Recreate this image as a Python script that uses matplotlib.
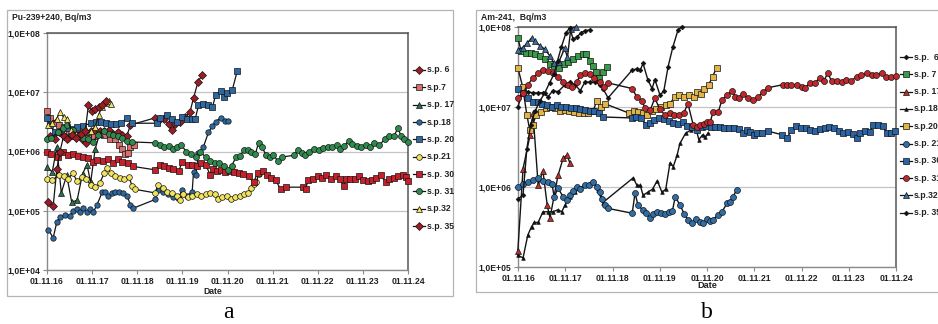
import math
import matplotlib
matplotlib.use("Agg")
import matplotlib.pyplot as plt
from matplotlib.lines import Line2D
from matplotlib.patches import Rectangle

# ---------------- panel a : Pu-239+240, Bq/m3 ----------------
a6_t = [2016.90, 2017.00, 2017.10, 2017.20, 2017.30, 2017.40, 2017.50, 2017.60, 2017.70, 2017.80,
        2017.90, 2018.00, 2018.10, 2018.20, 2018.30, 2018.40, 2018.50, 2018.60, 2018.68, 2019.23,
        2019.33, 2019.43, 2019.53, 2019.60, 2019.68, 2019.78, 2019.90, 2020.00, 2020.08, 2020.18, 2020.27]
a6_v = [1.8e6, 1.6e6, 2.1e6, 1.8e6, 1.7e6, 1.9e6, 1.8e6, 1.6e6, 1.4e6, 2.2e6,
        2.3e6, 2.2e6, 2.2e6, 2.3e6, 2.0e6, 2.1e6, 1.9e6, 1.8e6, 2.8e6, 3.7e6,
        3.6e6, 3.5e6, 2.9e6, 2.3e6, 2.9e6, 3.1e6, 3.8e6, 4.6e6, 8.0e6, 1.5e7, 1.95e7]

a7_t = [2016.83, 2016.90, 2017.00, 2017.10, 2017.20, 2017.32, 2017.45, 2017.55, 2017.65, 2017.75,
        2017.88, 2018.00, 2018.10, 2018.22, 2018.33, 2018.43, 2018.50, 2018.56, 2018.62, 2018.68, 2018.75]
a7_v = [4.8e6, 3.7e6, 3.0e6, 2.8e6, 2.6e6, 2.2e6, 2.0e6, 1.8e6, 1.9e6, 1.7e6,
        1.8e6, 2.0e6, 1.9e6, 1.6e6, 1.6e6, 1.3e6, 1.1e6, 9.0e5, 9.5e5, 1.2e6, 1.3e6]

a17_t = [2016.83, 2016.95, 2017.05, 2017.15, 2017.27, 2017.38, 2017.50, 2017.62, 2017.72, 2017.80,
         2017.90, 2018.00]
a17_v = [5.5e5, 4.5e5, 1.2e6, 2.0e5, 4.0e5, 1.4e5, 1.5e5, 4.2e5, 6.0e5, 3.0e5, 1.1e6, 2.0e6]

a18_t = [2016.86, 2016.97, 2017.05, 2017.12, 2017.23, 2017.34, 2017.41, 2017.50, 2017.57, 2017.63,
         2017.72, 2017.79, 2017.86, 2017.94, 2018.06, 2018.12, 2018.19, 2018.28, 2018.34, 2018.43,
         2018.52, 2018.61, 2018.68, 2018.74, 2019.23, 2019.30, 2019.41, 2019.52, 2019.63, 2019.74,
         2019.83, 2019.94, 2020.05, 2020.08, 2020.13, 2020.19, 2020.30, 2020.41, 2020.50, 2020.57,
         2020.68, 2020.77, 2020.85]
a18_v = [4.8e4, 3.5e4, 6.4e4, 7.8e4, 8.5e4, 8.2e4, 1.0e5, 1.05e5, 9.5e4, 1.1e5,
         9.5e4, 1.05e5, 9.5e4, 1.25e5, 2.1e5, 2.1e5, 1.8e5, 2.0e5, 2.1e5, 2.1e5,
         2.0e5, 1.8e5, 1.25e5, 1.1e5, 1.55e5, 2.2e5, 2.1e5, 1.9e5, 1.7e5, 1.65e5,
         2.2e5, 1.8e5, 2.1e5, 4.5e5, 4.0e5, 9.5e5, 1.2e6, 2.1e6, 2.7e6, 3.2e6,
         3.7e6, 3.3e6, 3.3e6]

a20_t = [2016.83, 2016.90, 2017.00, 2017.28, 2017.40, 2017.50, 2017.63, 2017.80, 2017.92, 2018.03,
         2018.15, 2018.26, 2018.37, 2018.48, 2018.60, 2018.72, 2019.28, 2019.34, 2019.50, 2019.61,
         2019.72, 2019.83, 2019.94, 2020.05, 2020.12, 2020.19, 2020.28, 2020.39, 2020.50, 2020.57,
         2020.68, 2020.75, 2020.83, 2020.94, 2021.05]
a20_v = [3.7e6, 2.8e6, 2.1e6, 2.5e6, 2.4e6, 2.6e6, 2.7e6, 3.0e6, 3.1e6, 3.1e6,
         3.0e6, 2.9e6, 2.9e6, 3.0e6, 3.7e6, 3.0e6, 3.0e6, 3.7e6, 4.2e6, 3.5e6,
         3.2e6, 3.8e6, 3.6e6, 3.6e6, 3.6e6, 6.0e6, 6.3e6, 6.2e6, 5.6e6, 9.0e6,
         1.05e7, 8.3e6, 9.6e6, 1.1e7, 2.3e7]

a21_t = [2016.83, 2016.95, 2017.10, 2017.20, 2017.30, 2017.40, 2017.50, 2017.60, 2017.70, 2017.80,
         2017.90, 2018.00, 2018.10, 2018.17, 2018.25, 2018.35, 2018.45, 2018.55, 2018.65, 2018.72,
         2018.78, 2019.23, 2019.30, 2019.40, 2019.50, 2019.60, 2019.72, 2019.78, 2019.85, 2019.95,
         2020.05, 2020.15, 2020.25, 2020.35, 2020.45, 2020.55, 2020.62, 2020.72, 2020.82, 2020.92,
         2021.00, 2021.10, 2021.20, 2021.28, 2021.35, 2021.42, 2021.47, 2021.52]
a21_v = [3.5e5, 3.3e5, 4.0e5, 3.8e5, 3.4e5, 4.3e5, 3.2e5, 3.7e5, 3.5e5, 2.7e5,
         2.5e5, 2.9e5, 4.3e5, 5.3e5, 4.3e5, 3.9e5, 3.6e5, 3.4e5, 3.7e5, 2.6e5,
         2.3e5, 2.0e5, 2.7e5, 2.4e5, 2.1e5, 2.0e5, 1.8e5, 1.5e5, 1.9e5, 1.7e5,
         1.8e5, 1.9e5, 1.8e5, 1.9e5, 2.0e5, 1.9e5, 1.6e5, 1.7e5, 1.8e5, 1.6e5,
         1.7e5, 1.8e5, 1.9e5, 2.0e5, 2.4e5, 2.8e5, 3.0e5, 4.1e5]

a30_t = [2016.83, 2016.92, 2017.07, 2017.18, 2017.30, 2017.40, 2017.52, 2017.62, 2017.74, 2017.85,
         2017.95, 2018.07, 2018.18, 2018.30, 2018.40, 2018.50, 2018.62, 2018.74, 2019.23, 2019.33,
         2019.43, 2019.53, 2019.63, 2019.75, 2019.83, 2019.95, 2020.05, 2020.15, 2020.25, 2020.35,
         2020.45, 2020.52, 2020.60, 2020.68, 2020.78, 2020.88, 2020.98, 2021.08, 2021.18, 2021.30,
         2021.41, 2021.50, 2021.61, 2021.70, 2021.80, 2021.90, 2022.01, 2022.12, 2022.50, 2022.57,
         2022.61, 2022.72, 2022.83, 2022.93, 2023.01, 2023.12, 2023.23, 2023.32, 2023.41, 2023.45,
         2023.55, 2023.65, 2023.74, 2023.84, 2023.94, 2024.04, 2024.12, 2024.23, 2024.34, 2024.42,
         2024.52, 2024.62, 2024.72, 2024.78, 2024.83]
a30_v = [1.0e6, 9.0e5, 8.2e5, 1.0e6, 8.8e5, 9.2e5, 8.5e5, 8.0e5, 7.8e5, 6.7e5,
         7.2e5, 6.8e5, 7.4e5, 6.5e5, 7.5e5, 6.6e5, 6.3e5, 5.6e5, 4.9e5, 6.0e5,
         5.6e5, 5.3e5, 5.0e5, 4.6e5, 6.7e5, 6.0e5, 6.0e5, 5.6e5, 6.4e5, 6.0e5,
         4.0e5, 5.0e5, 4.7e5, 4.9e5, 4.5e5, 4.6e5, 4.5e5, 4.3e5, 4.2e5, 3.8e5,
         3.0e5, 4.4e5, 4.6e5, 4.0e5, 3.6e5, 3.3e5, 2.3e5, 2.5e5, 2.5e5, 2.3e5,
         3.3e5, 3.5e5, 3.8e5, 3.6e5, 4.0e5, 3.5e5, 3.8e5, 3.4e5, 2.6e5, 3.4e5,
         3.4e5, 3.5e5, 3.8e5, 3.3e5, 3.2e5, 3.3e5, 3.6e5, 4.0e5, 3.0e5, 3.4e5,
         3.6e5, 3.8e5, 4.0e5, 3.7e5, 3.2e5]

a31_t = [2016.83, 2016.92, 2017.07, 2017.18, 2017.28, 2017.40, 2017.52, 2017.62, 2017.74, 2017.85,
         2017.96, 2018.10, 2018.20, 2018.30, 2018.40, 2018.50, 2018.60, 2018.72, 2019.23, 2019.33,
         2019.43, 2019.53, 2019.63, 2019.72, 2019.80, 2019.92, 2020.03, 2020.13, 2020.23, 2020.35,
         2020.45, 2020.55, 2020.65, 2020.75, 2020.85, 2020.93, 2021.02, 2021.10, 2021.20, 2021.28,
         2021.35, 2021.45, 2021.52, 2021.60, 2021.68, 2021.78, 2021.85, 2021.95, 2022.05, 2022.30,
         2022.40, 2022.48, 2022.55, 2022.65, 2022.75, 2022.85, 2022.95, 2023.05, 2023.15, 2023.25,
         2023.32, 2023.42, 2023.52, 2023.60, 2023.70, 2023.80, 2023.90, 2023.98, 2024.08, 2024.20,
         2024.32, 2024.41, 2024.52, 2024.61, 2024.68, 2024.75, 2024.83]
a31_v = [1.6e6, 1.7e6, 2.1e6, 2.5e6, 2.8e6, 2.3e6, 1.9e6, 1.7e6, 1.6e6, 1.45e6,
         1.9e6, 2.2e6, 2.0e6, 1.9e6, 1.8e6, 1.7e6, 1.5e6, 1.45e6, 1.4e6, 1.3e6,
         1.2e6, 1.25e6, 1.1e6, 1.2e6, 1.3e6, 1.0e6, 9.0e5, 8.2e5, 1.0e6, 8.0e5,
         7.0e5, 6.5e5, 6.3e5, 5.6e5, 4.9e5, 5.8e5, 8.0e5, 8.3e5, 1.05e6, 1.05e6,
         1.0e6, 9.0e5, 1.4e6, 1.2e6, 8.8e5, 8.0e5, 8.8e5, 6.8e5, 8.1e5, 8.6e5,
         1.05e6, 9.5e5, 8.8e5, 1.0e6, 1.1e6, 1.05e6, 1.15e6, 1.2e6, 1.2e6, 1.3e6,
         1.1e6, 1.25e6, 1.5e6, 1.35e6, 1.25e6, 1.2e6, 1.3e6, 1.2e6, 1.4e6, 1.3e6,
         1.6e6, 1.8e6, 1.8e6, 2.5e6, 1.8e6, 1.6e6, 1.45e6]

a32_t = [2016.85, 2016.95, 2017.05, 2017.12, 2017.20, 2017.28, 2017.37, 2017.48, 2017.58, 2017.70,
         2017.80, 2017.90, 2017.98, 2018.05, 2018.12, 2018.20, 2018.25]
a32_v = [2.8e6, 3.0e6, 3.6e6, 4.7e6, 3.8e6, 3.6e6, 2.3e6, 2.0e6, 2.2e6, 2.3e6,
         2.2e6, 2.6e6, 4.2e6, 5.7e6, 6.5e6, 7.2e6, 6.3e6]

a35_t = [2016.85, 2016.97, 2017.05, 2017.12, 2017.20, 2017.28, 2017.38, 2017.48, 2017.58, 2017.68,
         2017.75, 2017.82, 2017.90, 2017.98, 2018.06, 2018.15]
a35_v = [1.4e5, 1.2e5, 5.0e5, 1.0e6, 1.8e6, 1.6e6, 1.9e6, 1.7e6, 2.0e6, 2.2e6,
         6.0e6, 4.8e6, 5.2e6, 5.6e6, 6.2e6, 7.0e6]

# ---------------- panel b : Am-241, Bq/m3 ----------------
b6_t = [2016.83, 2016.94, 2017.04, 2017.15, 2017.26, 2017.36, 2017.47, 2017.57, 2017.68, 2017.83,
        2017.93, 2018.04, 2018.15, 2018.25, 2018.36, 2018.46, 2018.57, 2018.63, 2018.74, 2019.25,
        2019.35, 2019.42, 2019.48, 2019.58, 2019.67, 2019.73, 2019.84, 2019.92, 2020.01, 2020.11,
        2020.22, 2020.30]
b6_v = [1.0e7, 1.6e7, 1.55e7, 1.5e7, 1.5e7, 1.5e7, 1.35e7, 1.6e7, 1.55e7, 1.9e7,
        2.05e7, 1.9e7, 1.6e7, 2.05e7, 2.05e7, 2.05e7, 1.9e7, 1.7e7, 1.3e7, 2.9e7,
        3.0e7, 2.9e7, 3.5e7, 2.2e7, 1.7e7, 2.2e7, 1.4e7, 1.6e7, 3.2e7, 5.6e7,
        9.2e7, 1.0e8]

b7_t = [2016.83, 2016.90, 2017.00, 2017.10, 2017.20, 2017.30, 2017.40, 2017.50, 2017.60, 2017.70,
        2017.80, 2017.90, 2018.00, 2018.10, 2018.20, 2018.28, 2018.35, 2018.42, 2018.48, 2018.55,
        2018.63, 2018.72]
b7_v = [7.3e7, 5.0e7, 4.7e7, 4.8e7, 4.6e7, 4.4e7, 4.0e7, 3.4e7, 3.3e7, 3.1e7,
        3.4e7, 3.6e7, 4.0e7, 4.3e7, 4.6e7, 4.6e7, 3.8e7, 3.3e7, 2.7e7, 2.3e7,
        2.7e7, 3.2e7]

b17_t = [2016.83, 2016.94, 2017.09, 2017.15, 2017.26, 2017.36, 2017.45, 2017.51, 2017.68, 2017.79,
         2017.87, 2017.93]
b17_v = [1.6e5, 1.7e6, 4.5e6, 8.4e6, 1.05e6, 1.6e6, 6.0e5, 4.1e5, 1.4e6, 2.3e6, 2.5e6, 2.0e6]

b18_t = [2016.83, 2016.94, 2017.04, 2017.12, 2017.18, 2017.26, 2017.36, 2017.47, 2017.57, 2017.68,
         2017.76, 2017.83, 2017.93, 2018.04, 2018.15, 2018.25, 2018.33, 2018.42, 2018.52, 2018.63,
         2019.27, 2019.35, 2019.42, 2019.48, 2019.58, 2019.68, 2019.78, 2019.88, 2019.96, 2020.05,
         2020.12, 2020.20, 2020.26, 2020.38, 2020.50, 2020.60, 2020.66, 2020.74, 2020.80, 2020.85]
b18_v = [1.4e5, 1.3e5, 2.5e5, 3.2e5, 3.6e5, 3.6e5, 4.9e5, 4.9e5, 4.9e5, 5.2e5,
         4.9e5, 6.0e5, 7.5e5, 8.6e5, 9.8e5, 1.05e6, 1.1e6, 1.15e6, 9.2e5, 6.4e5,
         1.3e6, 1.05e6, 1.05e6, 7.9e5, 8.6e5, 9.4e5, 1.2e6, 8.6e5, 9.4e5, 2.0e6,
         1.8e6, 2.5e6, 3.5e6, 4.7e6, 5.2e6, 5.4e6, 3.9e6, 4.5e6, 4.2e6, 4.7e6]

b20_t = [2016.83, 2016.93, 2017.02, 2017.08, 2017.14, 2017.22, 2017.32, 2017.42, 2017.52, 2017.62,
         2017.72, 2017.82, 2017.92, 2018.02, 2018.12, 2018.22, 2018.32, 2018.42, 2018.50, 2018.58,
         2018.67, 2019.18, 2019.28, 2019.38, 2019.48, 2019.56, 2019.66, 2019.76, 2019.86, 2019.96,
         2020.05, 2020.15, 2020.25, 2020.35, 2020.45, 2020.55, 2020.62, 2020.70, 2020.78, 2020.87,
         2020.95, 2021.04]
b20_v = [3.1e7, 1.8e7, 8.0e6, 5.2e6, 6.0e6, 7.9e6, 8.6e6, 9.6e6, 1.0e7, 9.6e6,
         9.0e6, 9.2e6, 8.8e6, 8.6e6, 8.4e6, 8.4e6, 8.3e6, 8.8e6, 1.2e7, 1.0e7,
         1.1e7, 8.4e6, 8.8e6, 8.6e6, 8.4e6, 8.0e6, 9.0e6, 9.4e6, 1.0e7, 1.05e7,
         1.1e7, 1.35e7, 1.4e7, 1.35e7, 1.4e7, 1.35e7, 1.55e7, 1.45e7, 1.7e7, 1.9e7,
         2.4e7, 3.1e7]

b21_t = [2016.83, 2016.94, 2017.04, 2017.15, 2017.26, 2017.36, 2017.47, 2017.55, 2017.60, 2017.68,
         2017.79, 2017.86, 2017.93, 2018.00, 2018.08, 2018.15, 2018.25, 2018.33, 2018.42, 2018.50,
         2018.57, 2018.62, 2018.67, 2018.74, 2019.25, 2019.31, 2019.37, 2019.48, 2019.55, 2019.62,
         2019.70, 2019.78, 2019.86, 2019.94, 2020.02, 2020.10, 2020.16, 2020.26, 2020.35, 2020.43,
         2020.52, 2020.60, 2020.68, 2020.75, 2020.83, 2020.90, 2020.96, 2021.07, 2021.15, 2021.26,
         2021.32, 2021.38, 2021.46]
b21_v = [1.0e6, 1.1e6, 1.15e6, 1.23e6, 1.3e6, 1.2e6, 1.15e6, 1.1e6, 7.5e5, 9.7e5,
         7.5e5, 6.8e5, 7.9e5, 9.0e5, 1.0e6, 9.5e5, 1.06e6, 1.05e6, 1.15e6, 1.0e6,
         8.6e5, 7.0e5, 6.0e5, 5.4e5, 4.7e5, 8.4e5, 6.0e5, 5.1e5, 4.7e5, 4.1e5,
         4.6e5, 4.9e5, 4.8e5, 4.6e5, 4.9e5, 5.0e5, 7.5e5, 6.0e5, 4.6e5, 3.9e5,
         3.5e5, 4.0e5, 3.7e5, 3.5e5, 4.0e5, 3.8e5, 3.9e5, 4.5e5, 4.9e5, 6.3e5,
         6.5e5, 7.5e5, 9.2e5]

b30_t = [2016.83, 2016.93, 2017.05, 2017.15, 2017.25, 2017.35, 2017.45, 2017.55, 2017.65, 2017.75,
         2017.85, 2017.95, 2018.05, 2018.15, 2018.25, 2018.35, 2018.45, 2018.55, 2018.63, 2019.24,
         2019.34, 2019.44, 2019.54, 2019.62, 2019.72, 2019.82, 2019.92, 2020.02, 2020.12, 2020.22,
         2020.32, 2020.42, 2020.52, 2020.62, 2020.72, 2020.82, 2020.92, 2021.00, 2021.10, 2021.20,
         2021.30, 2021.40, 2021.50, 2021.60, 2021.68, 2021.75, 2021.82, 2021.90, 2022.00, 2022.12,
         2022.42, 2022.53, 2022.62, 2022.72, 2022.82, 2022.92, 2023.02, 2023.12, 2023.22, 2023.32,
         2023.42, 2023.52, 2023.62, 2023.72, 2023.82, 2023.92, 2024.00, 2024.08, 2024.18, 2024.28,
         2024.35, 2024.45, 2024.55, 2024.64, 2024.72, 2024.81]
b30_v = [1.7e7, 1.5e7, 1.3e7, 1.15e7, 1.15e7, 1.1e7, 1.05e7, 1.0e7, 1.05e7, 1.0e7,
         1.0e7, 9.8e6, 9.7e6, 9.5e6, 9.3e6, 9.0e6, 8.8e6, 8.4e6, 7.5e6, 7.3e6,
         7.6e6, 7.2e6, 6.0e6, 6.3e6, 6.9e6, 7.2e6, 7.0e6, 6.6e6, 6.4e6, 6.2e6,
         6.5e6, 5.8e6, 5.6e6, 5.2e6, 5.6e6, 5.8e6, 5.6e6, 5.6e6, 5.6e6, 5.4e6,
         5.4e6, 5.4e6, 5.3e6, 4.7e6, 5.1e6, 4.9e6, 4.5e6, 4.8e6, 4.8e6, 5.0e6,
         4.5e6, 4.1e6, 5.2e6, 5.8e6, 5.4e6, 5.5e6, 5.2e6, 5.0e6, 5.3e6, 5.5e6,
         5.6e6, 5.4e6, 5.0e6, 4.8e6, 4.9e6, 4.6e6, 4.1e6, 4.8e6, 5.0e6, 4.9e6,
         6.0e6, 6.0e6, 5.8e6, 4.7e6, 4.7e6, 5.0e6]

b31_t = [2016.83, 2016.94, 2017.04, 2017.15, 2017.26, 2017.36, 2017.46, 2017.57, 2017.68, 2017.79,
         2017.89, 2017.98, 2018.08, 2018.15, 2018.25, 2018.35, 2018.45, 2018.57, 2018.66, 2018.74,
         2019.25, 2019.35, 2019.45, 2019.52, 2019.63, 2019.73, 2019.83, 2019.94, 2020.04, 2020.14,
         2020.24, 2020.34, 2020.43, 2020.54, 2020.62, 2020.68, 2020.76, 2020.84, 2020.90, 2020.96,
         2021.07, 2021.15, 2021.26, 2021.36, 2021.43, 2021.51, 2021.59, 2021.70, 2021.81, 2021.92,
         2022.02, 2022.12, 2022.44, 2022.52, 2022.62, 2022.74, 2022.84, 2022.91, 2023.01, 2023.11,
         2023.22, 2023.30, 2023.39, 2023.47, 2023.58, 2023.69, 2023.78, 2023.88, 2024.00, 2024.10,
         2024.22, 2024.32, 2024.42, 2024.53, 2024.62, 2024.72, 2024.83]
b31_v = [1.3e7, 1.5e7, 1.9e7, 2.3e7, 2.65e7, 2.9e7, 2.8e7, 2.65e7, 2.4e7, 2.05e7,
         1.9e7, 1.8e7, 2.05e7, 2.5e7, 2.65e7, 2.6e7, 2.3e7, 2.05e7, 1.8e7, 2.0e7,
         1.7e7, 1.33e7, 1.2e7, 9.8e6, 9.1e6, 1.3e7, 9.4e6, 8.0e6, 8.3e6, 8.0e6,
         8.0e6, 8.4e6, 1.1e7, 6.0e6, 5.6e6, 6.0e6, 6.2e6, 6.5e6, 6.5e6, 8.6e6,
         8.6e6, 1.23e7, 1.4e7, 1.6e7, 1.35e7, 1.3e7, 1.45e7, 1.3e7, 1.23e7, 1.35e7,
         1.55e7, 1.74e7, 1.9e7, 1.9e7, 1.9e7, 1.9e7, 1.8e7, 1.74e7, 2.0e7, 2.0e7,
         2.3e7, 2.1e7, 2.65e7, 2.1e7, 2.1e7, 2.05e7, 2.2e7, 2.1e7, 2.4e7, 2.5e7,
         2.65e7, 2.5e7, 2.5e7, 2.65e7, 2.4e7, 2.4e7, 2.45e7]

b32_t = [2016.83, 2016.93, 2017.03, 2017.12, 2017.20, 2017.30, 2017.40, 2017.50, 2017.60, 2017.70,
         2017.82, 2017.88, 2017.95, 2018.05]
b32_v = [5.2e7, 5.5e7, 6.3e7, 7.3e7, 6.6e7, 5.8e7, 5.3e7, 4.4e7, 3.5e7, 3.7e7,
         5.4e7, 4.2e7, 9.5e7, 1.0e8]

b35_t = [2016.83, 2016.94, 2017.02, 2017.10, 2017.20, 2017.30, 2017.40, 2017.50, 2017.60, 2017.67,
         2017.75, 2017.85, 2017.93, 2018.00, 2018.08, 2018.17, 2018.25, 2018.35]
b35_v = [7.0e5, 8.0e5, 3.0e6, 6.0e6, 9.0e6, 1.2e7, 1.5e7, 2.0e7, 2.6e7, 3.8e7,
         5.6e7, 8.5e7, 9.8e7, 7.0e7, 7.5e7, 8.5e7, 9.0e7, 9.2e7]

tick_years = [2016.833, 2017.833, 2018.833, 2019.833, 2020.833, 2021.833, 2022.833, 2023.833, 2024.833]
tick_labels = ["01.11.16", "01.11.17", "01.11.18", "01.11.19", "01.11.20",
               "01.11.21", "01.11.22", "01.11.23", "01.11.24"]

a_labels = ["s.p. 6", "s.p.7", "s.p. 17", "s.p.18", "s.p. 20", "s.p.21", "s.p. 30", "s.p. 31", "s.p.32", "s.p. 35"]
b_labels = ["s.p.  6", "s.p. 7", "s.p. 17", "s.p.18", "s.p.20", "s.p. 21", "s.p. 30", "s.p. 31", "s.p.32", "s.p. 35"]

plt.rcParams['font.family'] = ['Liberation Sans', 'DejaVu Sans']
W, H = 938, 324
fig = plt.figure(figsize=(W / 100, H / 100), dpi=100)

LINE = '#141414'
TXT = '#222222'


def fx(px):
    return px / W


def fy(py):
    return 1 - py / H


# light grey frames round each panel
fig.add_artist(Rectangle((fx(7), fy(296)), fx(446), 286 / H, transform=fig.transFigure,
                         fill=False, ec='#b4b4b4', lw=0.9))
fig.add_artist(Rectangle((fx(476), fy(292)), fx(470), 282 / H, transform=fig.transFigure,
                         fill=False, ec='#b4b4b4', lw=0.9))


def setup_axes(ax, ymin, decades):
    ax.set_yscale('log')
    ax.set_ylim(ymin, 1e8)
    ax.set_xlim(tick_years[0], tick_years[-1])
    yt = [ymin * 10 ** k for k in range(decades + 1)]
    ax.set_yticks(yt)
    ax.set_yticklabels(["1,0E+%02d" % int(round(math.log10(v))) for v in yt])
    ax.minorticks_off()
    ax.set_xticks(tick_years)
    ax.set_xticklabels(tick_labels)
    ax.grid(axis='y', color='#c4c4c4', lw=0.9)
    ax.set_axisbelow(True)
    for s in ['left', 'bottom']:
        ax.spines[s].set_color('#8a8a8a')
        ax.spines[s].set_linewidth(1.0)
    for s in ['top', 'right']:
        ax.spines[s].set_color('#555555')
        ax.spines[s].set_linewidth(1.1)
    ax.tick_params(axis='both', labelsize=6.2, colors='#8a8a8a', labelcolor=TXT, length=3, width=0.8, pad=2)
    for lab in ax.get_xticklabels() + ax.get_yticklabels():
        lab.set_fontweight('bold')


def series(ax, t, v, marker, color, ms, lw=0.9):
    ax.plot(t, v, color=LINE, lw=lw, marker=marker, ms=ms, mfc=color, mec=LINE, mew=0.5,
            clip_on=False, zorder=3)


def legend(x0, y0, dy, styles, labels):
    for i, ((marker, color, ms), lab) in enumerate(zip(styles, labels)):
        y = fy(y0 + i * dy)
        fig.add_artist(Line2D([fx(x0), fx(x0 + 6), fx(x0 + 12)], [y, y, y], transform=fig.transFigure,
                              color=LINE, lw=0.9, marker=marker, ms=ms, mfc=color, mec=LINE, mew=0.5,
                              markevery=[1]))
        fig.text(fx(x0 + 14), y, lab, fontsize=6.2, fontweight='bold', color=TXT, va='center', ha='left')


# ---- panel a ----
axa = fig.add_axes([fx(47), fy(270), fx(408 - 47), (270 - 33) / H])
setup_axes(axa, 1e4, 4)
a_styles = [('D', '#9e1c26', 3.6), ('s', '#d4716f', 4.1), ('^', '#2f7048', 4.6), ('o', '#2d68a0', 3.9),
            ('s', '#2d68a0', 4.1), ('o', '#f2e45a', 4.1), ('s', '#c8202a', 4.1), ('o', '#2e8b4e', 4.3),
            ('^', '#f2e460', 4.6), ('D', '#9e1c26', 3.6)]
a_data = [(a6_t, a6_v), (a7_t, a7_v), (a17_t, a17_v), (a18_t, a18_v), (a20_t, a20_v),
          (a21_t, a21_v), (a30_t, a30_v), (a31_t, a31_v), (a32_t, a32_v), (a35_t, a35_v)]
for (t, v), (m, c, ms) in zip(a_data, a_styles):
    series(axa, t, v, m, c, ms)
fig.text(fx(12), fy(17), "Pu-239+240, Bq/m3", fontsize=6.2, fontweight='bold', color=TXT, va='center')
fig.text(fx(213), fy(291), "Date", fontsize=6.2, fontweight='bold', color=TXT, va='center', ha='center')
fig.text(fx(228), fy(312), "a", fontsize=17, family='Liberation Serif', color='black', va='center', ha='center')
legend(413, 70, 17.35, a_styles, a_labels)

# ---- panel b ----
axb = fig.add_axes([fx(518), fy(267), fx(896 - 518), (267 - 27) / H])
setup_axes(axb, 1e5, 3)
b_styles = [('D', '#111111', 2.4), ('s', '#3a9a4a', 4.1), ('^', '#c0302a', 4.6), ('^', '#111111', 2.6),
            ('s', '#e0b448', 4.1), ('o', '#2f6ea6', 4.3), ('s', '#2b64a4', 4.1), ('o', '#c0282c', 4.3),
            ('^', '#3d6fa5', 4.6), ('D', '#111111', 2.4)]
b_data = [(b6_t, b6_v), (b7_t, b7_v), (b17_t, b17_v), (b18_t, b18_v), (b20_t, b20_v),
          (b21_t, b21_v), (b30_t, b30_v), (b31_t, b31_v), (b32_t, b32_v), (b35_t, b35_v)]
for (t, v), (m, c, ms) in zip(b_data, b_styles):
    series(axb, t, v, m, c, ms, lw=1.0)
fig.text(fx(481), fy(17), "Am-241,  Bq/m3", fontsize=6.2, fontweight='bold', color=TXT, va='center')
fig.text(fx(707), fy(286), "Date", fontsize=6.6, fontweight='bold', color=TXT, va='center', ha='center')
fig.text(fx(707), fy(312), "b", fontsize=17, family='Liberation Serif', color='black', va='center', ha='center')
legend(900, 57, 17.3, b_styles, b_labels)

fig.savefig("out.png", dpi=100, facecolor='white')
